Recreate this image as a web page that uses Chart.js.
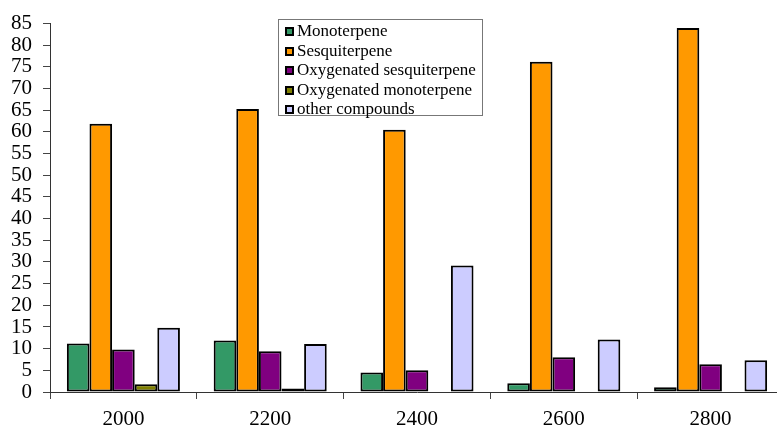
<!DOCTYPE html>
<html>
<head>
<meta charset="utf-8">
<script src="https://cdn.jsdelivr.net/npm/chart.js@4/dist/chart.umd.min.js"></script>
<style>
  html, body { margin: 0; padding: 0; background: #fff; overflow: hidden; }
  .wrap { position: relative; width: 777px; height: 426px; overflow: hidden; }
  #terpeneChart { display: block; }
  .legend-box {
    position: absolute; left: 278px; top: 19px; width: 205px; height: 97px;
    border: 1px solid #777; background: #fff; box-sizing: border-box;
    padding: 1px 0 0 6px;
    font-family: "Liberation Serif", "Times New Roman", serif; font-size: 17px; color: #000;
  }
  .legend-row { height: 19.6px; line-height: 19.6px; white-space: nowrap; }
  .legend-key {
    display: inline-block; width: 9px; height: 9px; box-sizing: border-box;
    border: 2px solid #000; margin-right: 3px; vertical-align: 0px;
  }
</style>
</head>
<body>
<div class="wrap">
  <canvas id="terpeneChart" width="784" height="426" style="width:784px;height:426px"></canvas>
  <div class="legend-box" id="legend"></div>
</div>
<script>
/* ======= Data ====== */
const years = ["2000", "2200", "2400", "2600", "2800"];
const monoterpene = [11.2, 11.9, 4.5, 2.0, 1.1];
const sesquiterpene = [61.9, 65.3, 60.5, 76.2, 84.0];
const oxySesquiterpene = [9.8, 9.4, 5.0, 8.0, 6.4];
const oxyMonoterpene = [1.8, 0.8, null, null, null];
const otherCompounds = [14.8, 11.1, 29.2, 12.1, 7.3];
const yMin = 0, yMax = 85, yStep = 5;

const serif = '"Liberation Serif", "Times New Roman", serif';

function makeSet(label, data, color) {
  return {
    label: label,
    data: data,
    backgroundColor: color,
    borderColor: "#000",
    borderWidth: 2,
    borderSkipped: false,
    categoryPercentage: 0.77,
    barPercentage: 1.0,
  };
}

const ctx = document.getElementById("terpeneChart");
const chart = new Chart(ctx, {
  type: "bar",
  data: {
    labels: years,
    datasets: [
      makeSet("Monoterpene", monoterpene, "#339966"),
      makeSet("Sesquiterpene", sesquiterpene, "#FF9900"),
      makeSet("Oxygenated sesquiterpene", oxySesquiterpene, "#800080"),
      makeSet("Oxygenated monoterpene", oxyMonoterpene, "#808000"),
      makeSet("other compounds", otherCompounds, "#CCCCFF"),
    ],
  },
  options: {
    responsive: false,
    animation: false,
    layout: { padding: { left: 0, right: 0, top: 23, bottom: 0 } },
    plugins: {
      legend: { display: false },
      tooltip: { enabled: false },
    },
    scales: {
      x: {
        grid: {
          display: true,
          offset: true,
          drawOnChartArea: false,
          drawTicks: true,
          tickLength: 7,
          color: "#444",
        },
        border: { display: true, color: "#333", width: 1 },
        ticks: {
          color: "#000",
          font: { family: serif, size: 21 },
          padding: 8,
          maxRotation: 0,
        },
        afterFit(axis) { axis.height = 34; },
      },
      y: {
        min: yMin,
        max: yMax,
        grid: {
          display: true,
          drawOnChartArea: false,
          drawTicks: true,
          tickLength: 7,
          color: "#444",
        },
        border: { display: true, color: "#333", width: 1 },
        ticks: {
          stepSize: yStep,
          autoSkip: false,
          color: "#000",
          font: { family: serif, size: 21 },
          padding: 11,
        },
        afterFit(axis) { axis.width = 50; },
      },
    },
  },
});

/* legend built from the datasets */
const legendEl = document.getElementById("legend");
chart.data.datasets.forEach(function (ds) {
  const row = document.createElement("div");
  row.className = "legend-row";
  row.innerHTML = `<span class="legend-key" style="background:${ds.backgroundColor}"></span>${ds.label}`;
  legendEl.appendChild(row);
});
</script>
</body>
</html>
